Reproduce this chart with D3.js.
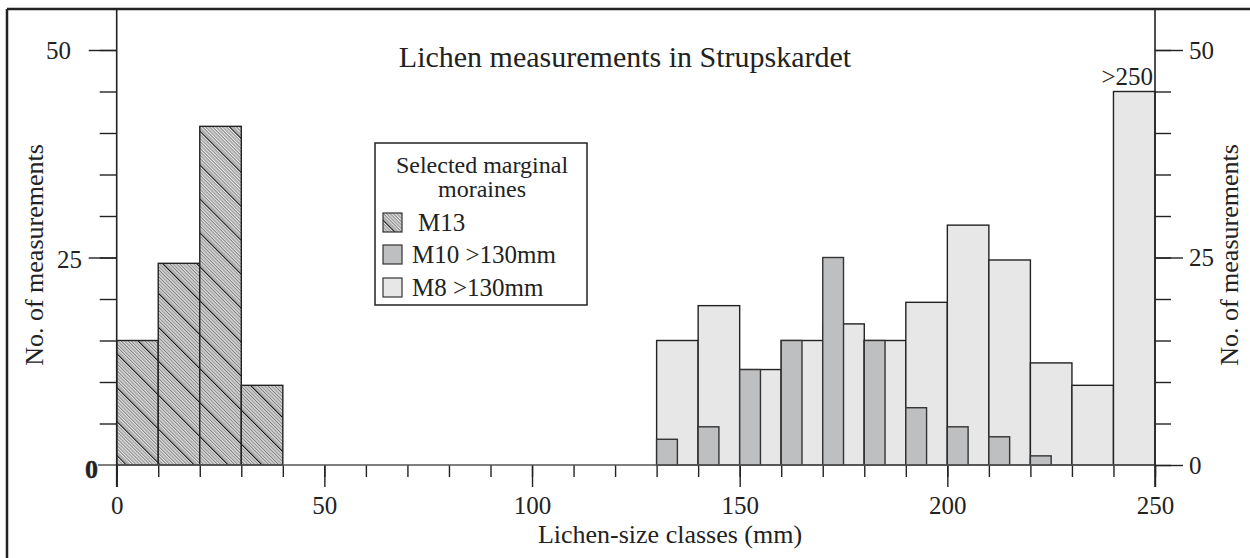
<!DOCTYPE html>
<html>
<head>
<meta charset="utf-8">
<script src="https://cdn.jsdelivr.net/npm/d3@7/dist/d3.min.js"></script>
<style>
  html, body { margin: 0; padding: 0; background: #fff; }
  svg { display: block; }
  text { font-family: "Liberation Serif", "Times New Roman", serif; fill: #222; }
</style>
</head>
<body>
<svg id="chart" width="1250" height="558"></svg>
<script>
// Lichen-size classes (lower bound, mm) and counts per moraine
const m13Classes = [0, 10, 20, 30];
const m13Counts = [15, 24.3, 40.8, 9.6];

const m8Classes = [130, 140, 150, 160, 170, 180, 190, 200, 210, 220, 230, 240];
const m8Counts = [15, 19.2, 11.5, 15, 17, 15, 19.6, 28.9, 24.7, 12.3, 9.6, 45];

const m10Classes = [130, 140, 150, 160, 170, 180, 190, 200, 210, 220];
const m10Counts = [3.1, 4.6, 11.5, 15, 25, 15, 6.9, 4.6, 3.4, 1.1];

const classWidth = 10;
const xMinorTicks = d3.range(0, 251, 10);
const xMajorTicks = [0, 50, 100, 150, 200, 250];
const yMinorTicks = d3.range(0, 51, 5);
const yMajorTicks = [0, 25, 50];

const titleText = "Lichen measurements in Strupskardet";
const xTitle = "Lichen-size classes (mm)";
const yTitle = "No. of measurements";
const legendTitle = ["Selected marginal", "moraines"];
const legendItems = ["M13", "M10 >130mm", "M8 >130mm"];
const lastClassLabel = ">250";

const svg = d3.select("#chart");
const ink = "#222";

const x = d3.scaleLinear().domain([0, 250]).range([116.7, 1155]);
const y = d3.scaleLinear().domain([0, 50]).range([465, 50]);

// diagonal hatching for M13
const defs = svg.append("defs");
const pat = defs.append("pattern")
  .attr("id", "hatch")
  .attr("patternUnits", "userSpaceOnUse")
  .attr("width", 24).attr("height", 24)
  .attr("patternTransform", "rotate(-45)");
pat.append("rect").attr("width", 24).attr("height", 24).attr("fill", "#f2f2f2");
d3.range(0, 24, 2.4).forEach((p, i) => {
  pat.append("line")
    .attr("x1", p + 0.6).attr("x2", p + 0.6).attr("y1", 0).attr("y2", 24)
    .attr("stroke", i === 0 ? "#111" : "#5e5e5e")
    .attr("stroke-width", i === 0 ? 1.4 : 0.9);
});

// frame
svg.append("line").attr("x1", 7).attr("x2", 1250).attr("y1", 9).attr("y2", 9)
  .attr("stroke", ink).attr("stroke-width", 2.5);
svg.append("line").attr("x1", 7).attr("x2", 7).attr("y1", 9).attr("y2", 558)
  .attr("stroke", ink).attr("stroke-width", 2.5);

// bars
const gBars = svg.append("g");
gBars.selectAll("rect.m13").data(m13Classes).join("rect")
  .attr("class", "m13")
  .attr("x", d => x(d)).attr("width", d => x(d + classWidth) - x(d))
  .attr("y", (d, i) => y(m13Counts[i])).attr("height", (d, i) => y(0) - y(m13Counts[i]))
  .attr("fill", "url(#hatch)").attr("stroke", ink).attr("stroke-width", 1.4);

gBars.selectAll("rect.m8").data(m8Classes).join("rect")
  .attr("class", "m8")
  .attr("x", d => x(d)).attr("width", d => x(d + classWidth) - x(d))
  .attr("y", (d, i) => y(m8Counts[i])).attr("height", (d, i) => y(0) - y(m8Counts[i]))
  .attr("fill", "#e6e7e6").attr("stroke", ink).attr("stroke-width", 1.4);

gBars.selectAll("rect.m10").data(m10Classes).join("rect")
  .attr("class", "m10")
  .attr("x", d => x(d)).attr("width", d => x(d + classWidth / 2) - x(d))
  .attr("y", (d, i) => y(m10Counts[i])).attr("height", (d, i) => y(0) - y(m10Counts[i]))
  .attr("fill", "#bebfc1").attr("stroke", "#333").attr("stroke-width", 1.4);

// x axis: short ticks every 10 mm, long labelled ticks every 50 mm
const gx = svg.append("g").attr("transform", `translate(0,${y(0)})`);
gx.call(d3.axisBottom(x).tickValues(xMinorTicks).tickSize(12).tickSizeOuter(0).tickFormat(""));
gx.select(".domain").remove();
gx.selectAll(".tick line").attr("stroke", ink).attr("stroke-width", 1.4);
const gx2 = svg.append("g").attr("transform", `translate(0,${y(0)})`);
gx2.call(d3.axisBottom(x).tickValues(xMajorTicks).tickSize(22).tickSizeOuter(0).tickPadding(9));
gx2.select(".domain").remove();
gx2.selectAll(".tick line").attr("stroke", ink).attr("stroke-width", 1.4);
gx2.selectAll(".tick text").attr("font-size", 25).attr("fill", ink)
  .attr("font-family", "'Liberation Serif', serif").attr("dy", "0.71em");
// baseline
svg.append("line").attr("x1", 98).attr("x2", x(250)).attr("y1", y(0)).attr("y2", y(0))
  .attr("stroke", "#555").attr("stroke-width", 1.6);

// left axis
const gl = svg.append("g").attr("transform", `translate(${x(0)},0)`);
gl.call(d3.axisLeft(y).tickValues(yMinorTicks.filter(v => v > 0)).tickSize(17).tickSizeOuter(0).tickFormat(""));
gl.select(".domain").remove();
gl.selectAll(".tick line").attr("stroke", ink).attr("stroke-width", 1.4);
const gl2 = svg.append("g").attr("transform", `translate(${x(0)},0)`);
gl2.call(d3.axisLeft(y).tickValues(yMajorTicks.filter(v => v > 0)).tickSize(28).tickSizeOuter(0).tickFormat(""));
gl2.select(".domain").remove();
gl2.selectAll(".tick line").attr("stroke", ink).attr("stroke-width", 1.4);
svg.append("line").attr("x1", x(0)).attr("x2", x(0)).attr("y1", 10).attr("y2", 487)
  .attr("stroke", ink).attr("stroke-width", 1.6);

// left tick labels (hand-set offsets as in the printed figure)
const leftLabelEnd = { 50: 71, 25: 82 };
svg.append("g").selectAll("text").data(yMajorTicks.filter(v => v > 0)).join("text")
  .attr("x", d => leftLabelEnd[d]).attr("y", d => y(d) + (d === 25 ? 1.5 : 0))
  .attr("dy", "0.35em").attr("text-anchor", "end").attr("font-size", 25).text(d => d);
svg.append("text").attr("x", 91.5).attr("y", y(0) + 4).attr("dy", "0.35em")
  .attr("text-anchor", "middle").attr("font-size", 26).attr("font-weight", "bold")
  .attr("stroke", ink).attr("stroke-width", 0.4).text(yMajorTicks[0]);

// right axis
const gr = svg.append("g").attr("transform", `translate(${x(250)},0)`);
gr.call(d3.axisRight(y).tickValues(yMinorTicks).tickSize(16).tickSizeOuter(0).tickFormat(""));
gr.select(".domain").remove();
gr.selectAll(".tick line").attr("stroke", ink).attr("stroke-width", 1.4);
const gr2 = svg.append("g").attr("transform", `translate(${x(250)},0)`);
gr2.call(d3.axisRight(y).tickValues(yMajorTicks).tickSize(28).tickSizeOuter(0).tickPadding(6));
gr2.select(".domain").remove();
gr2.selectAll(".tick line").attr("stroke", ink).attr("stroke-width", 1.4);
gr2.selectAll(".tick text").attr("font-size", 25).attr("fill", ink)
  .attr("font-family", "'Liberation Serif', serif");
svg.append("line").attr("x1", x(250)).attr("x2", x(250)).attr("y1", 9).attr("y2", 487)
  .attr("stroke", ink).attr("stroke-width", 1.6);

// open-ended last class label
svg.append("text").attr("x", x(250) - 2).attr("y", 85).attr("text-anchor", "end")
  .attr("font-size", 25).text(lastClassLabel);

// titles
svg.append("text").attr("x", 625).attr("y", 67).attr("text-anchor", "middle")
  .attr("font-size", 30).text(titleText);
svg.append("text").attr("x", 670).attr("y", 543).attr("text-anchor", "middle")
  .attr("font-size", 26).text(xTitle);
svg.append("text").attr("transform", "translate(43,255) rotate(-90)")
  .attr("text-anchor", "middle").attr("font-size", 26).text(yTitle);
svg.append("text").attr("transform", "translate(1238,255) rotate(-90)")
  .attr("text-anchor", "middle").attr("font-size", 26).text(yTitle);

// legend
const lg = svg.append("g").attr("transform", "translate(375,143)");
lg.append("rect").attr("width", 212).attr("height", 162)
  .attr("fill", "#fff").attr("stroke", ink).attr("stroke-width", 1.5);
lg.selectAll("text.head").data(legendTitle).join("text").attr("class", "head")
  .attr("x", 107).attr("y", (d, i) => 30 + i * 24)
  .attr("text-anchor", "middle").attr("font-size", 24).text(d => d);
const swatchFill = ["url(#hatch)", "#bebfc1", "#e6e7e6"];
const rowY = [70, 102, 135];
const item = lg.selectAll("g.item").data(legendItems).join("g").attr("class", "item")
  .attr("transform", (d, i) => `translate(0,${rowY[i]})`);
item.append("rect").attr("x", 8).attr("y", 0).attr("width", 19).attr("height", 19)
  .attr("fill", (d, i) => swatchFill[i]).attr("stroke", "#333").attr("stroke-width", 1.2);
item.append("text").attr("x", 37).attr("y", 18).attr("font-size", 25)
  .attr("dx", (d, i) => i === 0 ? 6 : 0).text(d => d);
</script>
</body>
</html>
